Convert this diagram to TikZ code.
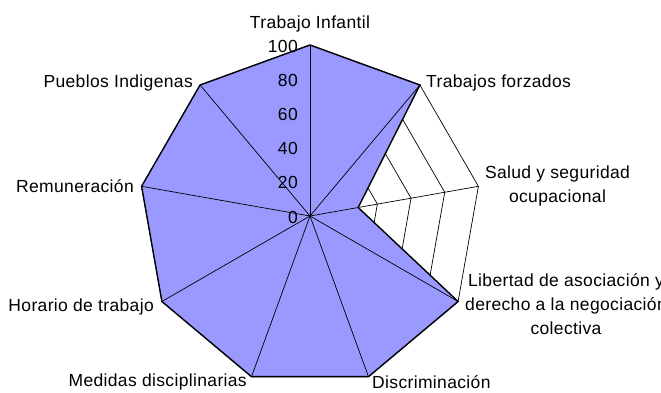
\documentclass[tikz,border=0pt]{standalone}
\usepackage{fontspec}
\setmainfont[LetterSpace=2]{Liberation Sans}
\definecolor{series}{RGB}{153,153,255}
\begin{document}
\begin{tikzpicture}[x=1pt,y=1pt,
  lbl/.style={inner sep=0pt, font=\fontsize{17.5}{24}\selectfont, align=center},
  tick/.style={inner sep=0pt, anchor=east, font=\fontsize{17.5}{20}\selectfont},
  gridline/.style={line width=0.7pt, black},
  seriesarea/.style={fill=series, draw=black, line width=1.4pt, line join=miter}]
\useasboundingbox (0,0) rectangle (661,392);
\begin{scope}[shift={(310,176)}]
  \coordinate (c) at (0,0);
  % grid rings
  \foreach \k in {1,...,5}{
    \pgfmathsetmacro{\r}{34.2*\k}
    \draw[gridline] (90:\r) -- (50:\r) -- (10:\r) -- (-30:\r) -- (-70:\r)
      -- (-110:\r) -- (-150:\r) -- (170:\r) -- (130:\r) -- cycle;
  }
  % data series
  \coordinate (d0) at (90:171);
  \coordinate (d1) at (50:171);
  \coordinate (d2) at (10:48.9);
  \coordinate (d3) at (-30:171);
  \coordinate (d4) at (-70:171);
  \coordinate (d5) at (-110:171);
  \coordinate (d6) at (-150:171);
  \coordinate (d7) at (170:171);
  \coordinate (d8) at (130:171);
  \path[seriesarea] (d0) -- (d1) -- (d2) -- (d3) -- (d4) -- (d5) -- (d6) -- (d7) -- (d8) -- cycle;
  % spokes
  \foreach \a [count=\i from 0] in {90,50,10,-30,-70,-110,-150,170,130}{
    \coordinate (v\i) at (\a:171);
    \draw[gridline] (c) -- (v\i);
  }
  \fill (c) circle (1.3);
\end{scope}
% tick labels
\node[tick] (t0)   at (298,175) {0};
\node[tick] (t20)  at (298,209.2) {20};
\node[tick] (t40)  at (298,243.4) {40};
\node[tick] (t60)  at (298,277.6) {60};
\node[tick] (t80)  at (298,311.8) {80};
\node[tick] (t100) at (298,346) {100};
% category labels
\node[lbl] (l0) at (310,368) {Trabajo Infantil};
\node[lbl, anchor=west] (l1) at (426,309.5) {Trabajos forzados};
\node[lbl] (l2) at (557.5,206) {Salud y seguridad\\ocupacional};
\node[lbl] (l3) at (566,88) {Libertad de asociación y\\derecho a la negociación\\colectiva};
\node[lbl, anchor=west] (l4) at (372,10) {Discriminación};
\node[lbl, anchor=east] (l5) at (247,10) {Medidas disciplinarias};
\node[lbl, anchor=east] (l6) at (154,85) {Horario de trabajo};
\node[lbl, anchor=east] (l7) at (134,206) {Remuneración};
\node[lbl, anchor=east] (l8) at (193,309.5) {Pueblos Indigenas};
\end{tikzpicture}
\end{document}
